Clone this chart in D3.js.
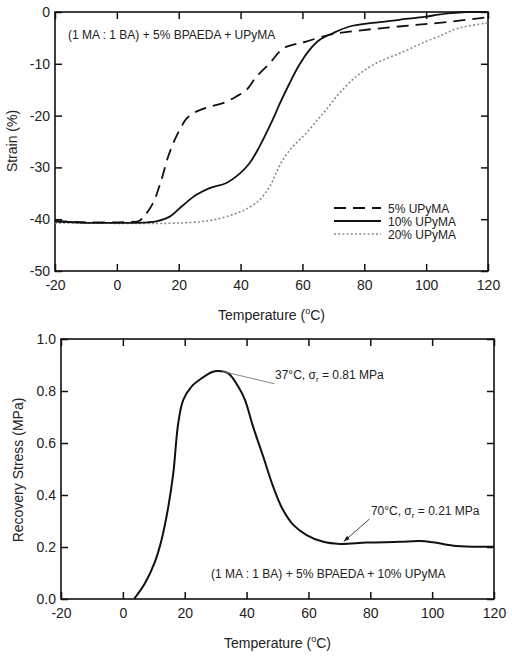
<!DOCTYPE html>
<html><head><meta charset="utf-8">
<script src="https://cdn.jsdelivr.net/npm/d3@7"></script>
<style>
body{margin:0;background:#fff;}
text{font-family:"Liberation Sans",Arial,sans-serif;fill:#222;}
</style></head>
<body><svg id="c" width="512" height="657"></svg>
<script>
// ---- Top chart data: strain (%) vs temperature (°C)
const temp5 = [-20,-10,0,5,7,9,11.7,14.4,16.6,18.7,20.9,22.5,24.6,27,30,34.3,38.6,41.8,45.1,49.4,53.6,57,61.2,68.7,75.2,85.9,96.7,107.4,120];
const strain5 = [-40.4,-40.6,-40.6,-40.5,-40.4,-39.3,-36.9,-32.4,-27.9,-24.7,-22.1,-20.6,-19.6,-18.9,-18.3,-17.6,-16.3,-15.1,-12.5,-9.9,-7.1,-6.3,-5.7,-4.4,-3.8,-3.1,-2.5,-1.9,-1.0];
const temp10 = [-20,-10,0,10,12.8,17.1,21.4,25.7,30,35.4,39.7,42.9,46.1,50.4,52.6,55.8,59,62.3,65.5,69.8,75.2,82.7,91.3,99.9,104,108,113,120];
const strain10 = [-40.4,-40.7,-40.7,-40.6,-40.4,-39.5,-37.3,-35.3,-34,-33,-31.2,-29.2,-26,-20.8,-17.8,-13.8,-10.2,-7.3,-5.4,-4.1,-2.8,-2.1,-1.5,-0.9,-0.5,-0.2,0,0];
const temp20 = [-20,0,16,26.8,32.2,38,42,46.1,49.4,51.5,53.6,56.9,61.2,64.9,67.6,71.9,77.3,83.8,91.3,98.8,105.3,108.5,112.8,120];
const strain20 = [-40.7,-40.8,-40.8,-40.5,-40,-39,-38,-36.3,-33.7,-31.1,-28.6,-26,-23.4,-20.8,-18.9,-15.7,-12.5,-9.9,-8.0,-6.0,-4.4,-3.5,-2.8,-2.1];
const seriesNames = ["5% UPyMA","10% UPyMA","20% UPyMA"];
const xTicks = [-20,0,20,40,60,80,100,120];
const strainTicks = [0,-10,-20,-30,-40,-50];

// ---- Bottom chart data: recovery stress (MPa) vs temperature (°C)
const tempS = [3.6,7.1,10.4,12.5,14.7,16.3,17.9,19.5,22.2,25.5,28.7,30.8,34.1,37.3,39.5,42.1,45.4,48.6,51.8,55.1,59.4,64.8,70.1,78.8,89.5,96,100.3,106.8,113.2,120];
const stress = [0,0.06,0.144,0.227,0.355,0.483,0.676,0.765,0.817,0.849,0.872,0.877,0.868,0.817,0.765,0.663,0.547,0.432,0.342,0.285,0.246,0.22,0.212,0.217,0.22,0.223,0.218,0.205,0.201,0.201];
const stressTicks = [0,0.2,0.4,0.6,0.8,1.0];

const svg = d3.select("#c");
const ink = "#111";

function frame(g, x, y, xt, yt, fmtY, padX, padY){
  const [x0,x1] = x.range(), [y1,y0] = y.range();
  g.append("g").attr("transform",`translate(0,${y1})`)
    .call(d3.axisBottom(x).tickValues(xt).tickSize(-7).tickPadding(padX).tickFormat(d=>String(d)));
  g.append("g").attr("transform",`translate(0,${y0})`)
    .call(d3.axisTop(x).tickValues(xt).tickSize(-7).tickFormat(""));
  g.append("g").attr("transform",`translate(${x0},0)`)
    .call(d3.axisLeft(y).tickValues(yt).tickSize(-7).tickPadding(padY).tickFormat(fmtY));
  g.append("g").attr("transform",`translate(${x1},0)`)
    .call(d3.axisRight(y).tickValues(yt).tickSize(-7).tickFormat(""));
  g.selectAll(".domain").remove();
  g.selectAll(".tick line").attr("stroke",ink).attr("stroke-width",1.5);
  g.selectAll(".tick text").attr("font-size",14).attr("fill","#222")
    .attr("font-family","Liberation Sans, Arial, sans-serif");
  g.append("rect").attr("x",x0).attr("y",y0).attr("width",x1-x0).attr("height",y1-y0)
    .attr("fill","none").attr("stroke",ink).attr("stroke-width",1.6);
}

function tempTitle(g, cx, cy){
  const t = g.append("text").attr("x",cx).attr("y",cy).attr("text-anchor","middle").attr("font-size",14);
  t.append("tspan").text("Temperature (");
  t.append("tspan").attr("font-size",9).attr("dy",-6).text("o");
  t.append("tspan").attr("dy",6).text("C)");
}

// ===== Top chart
const xA = d3.scaleLinear().domain([-20,120]).range([55,488]);
const yA = d3.scaleLinear().domain([-50,0]).range([271,12]);
const gA = svg.append("g");
frame(gA, xA, yA, xTicks, strainTicks, d=>String(d), 9, 5);

const lineA = d3.line().x(d=>xA(d[0])).y(d=>yA(d[1])).curve(d3.curveCatmullRom.alpha(0.5));
const styles = [
  {t:temp5, v:strain5, stroke:ink, w:1.8, dash:"12,7"},
  {t:temp10, v:strain10, stroke:ink, w:1.8, dash:null},
  {t:temp20, v:strain20, stroke:"#8a8a8a", w:1.6, dash:"2,2.2"}
];
[2,1,0].forEach(i=>{
  const s = styles[i];
  gA.append("path").datum(d3.zip(s.t,s.v)).attr("d",lineA)
    .attr("fill","none").attr("stroke",s.stroke).attr("stroke-width",s.w)
    .attr("stroke-dasharray",s.dash);
});
seriesNames.forEach((n,i)=>{
  const s = styles[i], yy = 208 + i*13;
  gA.append("line").attr("x1",334).attr("x2",381).attr("y1",yy).attr("y2",yy)
    .attr("stroke",s.stroke).attr("stroke-width",s.w).attr("stroke-dasharray",s.dash);
  gA.append("text").attr("x",388).attr("y",yy+4.5).attr("font-size",12).text(n);
});
gA.append("text").attr("x",xA(-15.8)).attr("y",yA(-5.2)).attr("font-size",12)
  .text("(1 MA : 1 BA) + 5% BPAEDA + UPyMA");
gA.append("text").attr("transform","translate(17,141) rotate(-90)").attr("text-anchor","middle")
  .attr("font-size",14).text("Strain (%)");
tempTitle(gA, 271.5, 320);

// ===== Bottom chart
const xB = d3.scaleLinear().domain([-20,120]).range([61,494]);
const yB = d3.scaleLinear().domain([0,1]).range([599,339]);
const gB = svg.append("g");
frame(gB, xB, yB, xTicks, stressTicks, d3.format(".1f"), 9, 5);
const lineB = d3.line().x(d=>xB(d[0])).y(d=>yB(d[1])).curve(d3.curveCatmullRom.alpha(0.5));
gB.append("path").datum(d3.zip(tempS,stress)).attr("d",lineB)
  .attr("fill","none").attr("stroke",ink).attr("stroke-width",2);

gB.append("line").attr("x1",xB(32.3)).attr("y1",yB(0.875)).attr("x2",xB(49)).attr("y2",yB(0.828))
  .attr("stroke","#777").attr("stroke-width",0.9);
const a1 = gB.append("text").attr("x",xB(49.2)).attr("y",yB(0.846)).attr("font-size",12);
a1.append("tspan").text("37°C, σ");
a1.append("tspan").attr("font-size",8).attr("dy",3).text("r");
a1.append("tspan").attr("dy",-3).text(" = 0.81 MPa");

svg.append("defs").append("marker").attr("id","ah").attr("viewBox","0 0 10 10")
  .attr("refX",10).attr("refY",5).attr("markerWidth",7).attr("markerHeight",7).attr("orient","auto")
  .append("path").attr("d","M0,1.5 L10,5 L0,8.5 Z").attr("fill","#222");
gB.append("line").attr("x1",xB(79.8)).attr("y1",yB(0.308)).attr("x2",xB(71.4)).attr("y2",yB(0.221))
  .attr("stroke","#333").attr("stroke-width",0.9).attr("marker-end","url(#ah)");
const a2 = gB.append("text").attr("x",xB(80.2)).attr("y",yB(0.323)).attr("font-size",12);
a2.append("tspan").text("70°C, σ");
a2.append("tspan").attr("font-size",8).attr("dy",3).text("r");
a2.append("tspan").attr("dy",-3).text(" = 0.21 MPa");

gB.append("text").attr("x",xB(28.5)).attr("y",yB(0.081)).attr("font-size",12)
  .text("(1 MA : 1 BA) + 5% BPAEDA + 10% UPyMA");
gB.append("text").attr("transform","translate(23,470) rotate(-90)").attr("text-anchor","middle")
  .attr("font-size",14).text("Recovery Stress (MPa)");
tempTitle(gB, 277.5, 648);
</script></body></html>
